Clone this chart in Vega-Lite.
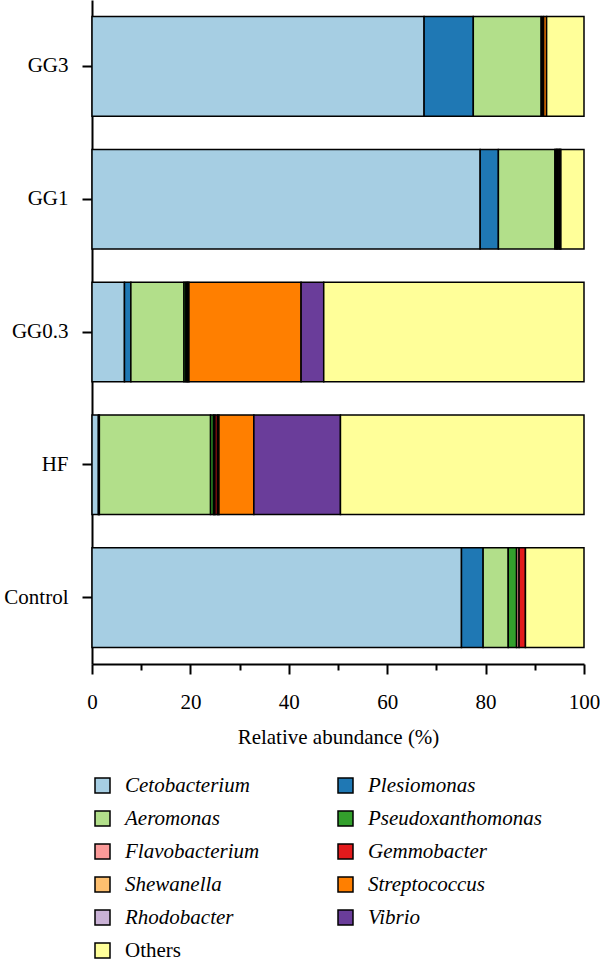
{
  "$schema": "https://vega.github.io/schema/vega-lite/v6.json",
  "autosize": {"type": "none"},
  "padding": {"left": 92, "top": 0, "right": 16, "bottom": 295},
  "width": 492,
  "height": 664,
  "config": {
    "font": "Liberation Serif",
    "view": {"stroke": null},
    "axis": {"domainColor": "black", "domainWidth": 2, "tickColor": "black", "tickWidth": 2, "labelColor": "black", "titleColor": "black", "labelFontSize": 21, "titleFontSize": 21, "titleFontWeight": "normal", "grid": false}
  },
  "data": {"values": [
    {"group": "GG3", "genus": "Cetobacterium", "rank": 1, "value": 67.5},
    {"group": "GG3", "genus": "Plesiomonas", "rank": 2, "value": 10.0},
    {"group": "GG3", "genus": "Aeromonas", "rank": 3, "value": 13.8},
    {"group": "GG3", "genus": "Flavobacterium", "rank": 5, "value": 0.3},
    {"group": "GG3", "genus": "Gemmobacter", "rank": 6, "value": 0.2},
    {"group": "GG3", "genus": "Streptococcus", "rank": 8, "value": 0.6},
    {"group": "GG3", "genus": "Others", "rank": 11, "value": 7.6},
    {"group": "GG1", "genus": "Cetobacterium", "rank": 1, "value": 78.9},
    {"group": "GG1", "genus": "Plesiomonas", "rank": 2, "value": 3.7},
    {"group": "GG1", "genus": "Aeromonas", "rank": 3, "value": 11.5},
    {"group": "GG1", "genus": "Pseudoxanthomonas", "rank": 4, "value": 0.3},
    {"group": "GG1", "genus": "Flavobacterium", "rank": 5, "value": 0.2},
    {"group": "GG1", "genus": "Gemmobacter", "rank": 6, "value": 0.3},
    {"group": "GG1", "genus": "Shewanella", "rank": 7, "value": 0.2},
    {"group": "GG1", "genus": "Vibrio", "rank": 10, "value": 0.2},
    {"group": "GG1", "genus": "Others", "rank": 11, "value": 4.7},
    {"group": "GG0.3", "genus": "Cetobacterium", "rank": 1, "value": 6.6},
    {"group": "GG0.3", "genus": "Plesiomonas", "rank": 2, "value": 1.3},
    {"group": "GG0.3", "genus": "Aeromonas", "rank": 3, "value": 10.8},
    {"group": "GG0.3", "genus": "Pseudoxanthomonas", "rank": 4, "value": 0.4},
    {"group": "GG0.3", "genus": "Gemmobacter", "rank": 6, "value": 0.3},
    {"group": "GG0.3", "genus": "Shewanella", "rank": 7, "value": 0.3},
    {"group": "GG0.3", "genus": "Streptococcus", "rank": 8, "value": 22.8},
    {"group": "GG0.3", "genus": "Vibrio", "rank": 10, "value": 4.6},
    {"group": "GG0.3", "genus": "Others", "rank": 11, "value": 52.9},
    {"group": "HF", "genus": "Cetobacterium", "rank": 1, "value": 1.3},
    {"group": "HF", "genus": "Plesiomonas", "rank": 2, "value": 0.2},
    {"group": "HF", "genus": "Aeromonas", "rank": 3, "value": 22.6},
    {"group": "HF", "genus": "Pseudoxanthomonas", "rank": 4, "value": 0.6},
    {"group": "HF", "genus": "Flavobacterium", "rank": 5, "value": 0.3},
    {"group": "HF", "genus": "Gemmobacter", "rank": 6, "value": 0.5},
    {"group": "HF", "genus": "Shewanella", "rank": 7, "value": 0.3},
    {"group": "HF", "genus": "Streptococcus", "rank": 8, "value": 7.1},
    {"group": "HF", "genus": "Vibrio", "rank": 10, "value": 17.6},
    {"group": "HF", "genus": "Others", "rank": 11, "value": 49.5},
    {"group": "Control", "genus": "Cetobacterium", "rank": 1, "value": 75.1},
    {"group": "Control", "genus": "Plesiomonas", "rank": 2, "value": 4.4},
    {"group": "Control", "genus": "Aeromonas", "rank": 3, "value": 5.1},
    {"group": "Control", "genus": "Pseudoxanthomonas", "rank": 4, "value": 1.7},
    {"group": "Control", "genus": "Flavobacterium", "rank": 5, "value": 0.5},
    {"group": "Control", "genus": "Gemmobacter", "rank": 6, "value": 1.3},
    {"group": "Control", "genus": "Others", "rank": 11, "value": 11.9}
  ]},
  "mark": {"type": "bar", "stroke": "black", "strokeWidth": 1.5},
  "encoding": {
    "y": {
      "field": "group", "type": "nominal",
      "sort": ["GG3", "GG1", "GG0.3", "HF", "Control"],
      "scale": {"paddingInner": 0.25, "paddingOuter": 0.125},
      "axis": {"title": null, "tickSize": 10, "labelPadding": 14}
    },
    "x": {
      "field": "value", "type": "quantitative", "stack": "zero",
      "scale": {"domain": [0, 100], "nice": false},
      "axis": {
        "title": "Relative abundance (%)",
        "values": [0, 10, 20, 30, 40, 50, 60, 70, 80, 90, 100],
        "labelExpr": "datum.value % 20 === 0 ? datum.label : ''",
        "tickSize": {"condition": {"test": "datum.value % 20 === 0", "value": 10}, "value": 6},
        "labelPadding": 17,
        "titlePadding": 14,
        "labelFlush": false
      }
    },
    "order": {"field": "rank", "type": "quantitative", "sort": "ascending"},
    "color": {
      "field": "genus", "type": "nominal",
      "scale": {
        "domain": ["Cetobacterium", "Aeromonas", "Flavobacterium", "Shewanella", "Rhodobacter", "Others", "Plesiomonas", "Pseudoxanthomonas", "Gemmobacter", "Streptococcus", "Vibrio"],
        "range": ["#a6cee3", "#b2df8a", "#fb9a99", "#fdbf6f", "#cab2d6", "#ffff99", "#1f78b4", "#33a02c", "#e31a1c", "#ff7f00", "#6a3d9a"]
      },
      "legend": {
        "title": null,
        "orient": "none",
        "legendX": 0,
        "legendY": 775,
        "columns": 2,
        "symbolType": "square",
        "symbolSize": 225,
        "symbolStrokeColor": "black",
        "symbolStrokeWidth": 1.5,
        "labelFontSize": 21,
        "labelColor": "black",
        "labelOffset": 12,
        "rowPadding": 11,
        "columnPadding": 75,
        "labelLimit": 300,
        "encode": {"labels": {"update": {"fontStyle": {"signal": "datum.label === 'Others' ? 'normal' : 'italic'"}}}}
      }
    }
  }
}
